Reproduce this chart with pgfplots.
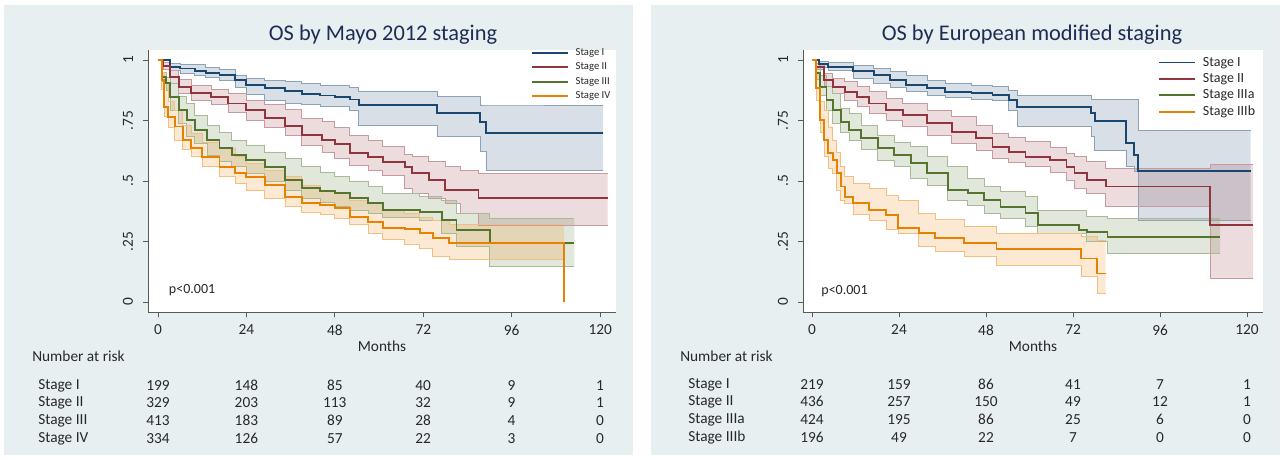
\documentclass[border=0pt]{standalone}
\usepackage{fontspec}
\setmainfont{Carlito}
\usepackage{pgfplots}
\pgfplotsset{compat=1.18}
\usepackage{pgfplotstable}
\usepgfplotslibrary{fillbetween}
\definecolor{cI}{RGB}{26,71,111}
\definecolor{cII}{RGB}{144,53,59}
\definecolor{cIII}{RGB}{85,117,47}
\definecolor{cIV}{RGB}{232,128,0}
\definecolor{panel}{RGB}{232,239,241}
\definecolor{ttl}{RGB}{30,45,85}
\definecolor{txt}{RGB}{40,40,40}

\pgfdeclarelayer{panelbg}
\pgfdeclarelayer{axis background}
\pgfdeclarelayer{axis grid}
\pgfdeclarelayer{axis ticks}
\pgfdeclarelayer{axis lines}
\pgfdeclarelayer{axis tick labels}
\pgfdeclarelayer{pre main}
\pgfdeclarelayer{axis descriptions}
\pgfdeclarelayer{axis foreground}
\pgfplotsset{
  layers/kmlayers/.define layer set={panelbg,axis background,axis grid,axis ticks,axis lines,axis tick labels,pre main,main,axis descriptions,axis foreground}{
    grid style={/pgfplots/on layer=axis grid},
    tick style={/pgfplots/on layer=axis ticks},
    axis line style={/pgfplots/on layer=axis lines},
    label style={/pgfplots/on layer=axis descriptions},
    legend style={/pgfplots/on layer=axis descriptions},
    title style={/pgfplots/on layer=axis descriptions},
    ticklabel style={/pgfplots/on layer=axis tick labels},
    axis background@ style={/pgfplots/on layer=axis background},
    3d box foreground style={/pgfplots/on layer=axis foreground},
  },
  set layers=kmlayers,
}

% ---------- Mayo 2012 staging ----------
\pgfplotstableread{
t s lo hi
0 1 1 1
3.3 0.972 0.955 0.985
6 0.965 0.945 0.982
10 0.955 0.938 0.98
13 0.948 0.928 0.97
16.7 0.938 0.917 0.96
21 0.917 0.885 0.935
24 0.897 0.858 0.924
29 0.883 0.835 0.915
34.5 0.873 0.82 0.91
39 0.86 0.815 0.903
44 0.853 0.81 0.897
48 0.848 0.81 0.897
52 0.837 0.793 0.887
54.5 0.814 0.731 0.872
75.7 0.782 0.686 0.848
87.4 0.745 0.621 0.814
89 0.70 0.545 0.814
120.8 0.70 0.545 0.814
}\tabAi
\pgfplotstableread{
t s lo hi
0 1 1 1
1.5 0.975 0.96 0.99
3.3 0.93 0.905 0.955
5.6 0.887 0.86 0.92
9 0.862 0.835 0.895
14.5 0.848 0.815 0.88
19 0.82 0.785 0.862
24 0.793 0.75 0.835
29 0.759 0.72 0.815
34.5 0.727 0.69 0.795
39 0.69 0.648 0.76
44.5 0.669 0.62 0.745
48 0.653 0.595 0.72
52 0.614 0.565 0.69
57 0.60 0.545 0.668
61 0.58 0.525 0.642
67 0.559 0.47 0.61
69 0.532 0.449 0.60
73.5 0.504 0.43 0.58
78 0.463 0.408 0.559
82 0.463 0.366 0.545
87 0.428 0.315 0.532
122 0.428 0.315 0.532
}\tabAii
\pgfplotstableread{
t s lo hi
0 1 1 1
1 0.93 0.91 0.95
2.2 0.904 0.875 0.93
3.3 0.848 0.793 0.904
5.6 0.793 0.74 0.85
7.8 0.752 0.683 0.82
10 0.71 0.655 0.77
13.4 0.669 0.607 0.731
16.7 0.635 0.58 0.70
20 0.607 0.559 0.669
24 0.587 0.532 0.649
29 0.559 0.50 0.62
34.5 0.504 0.463 0.594
39 0.47 0.43 0.56
44 0.46 0.41 0.535
48 0.449 0.394 0.518
52 0.428 0.38 0.50
57 0.408 0.366 0.477
61 0.38 0.35 0.449
71 0.373 0.339 0.435
77 0.339 0.284 0.421
81 0.297 0.229 0.366
90 0.245 0.149 0.345
113 0.245 0.149 0.345
}\tabAiii
\pgfplotstableread{
t s lo hi
0 1 1 1
1 0.917 0.88 0.95
1.7 0.807 0.766 0.904
2.8 0.766 0.72 0.83
4.5 0.725 0.669 0.793
6.7 0.669 0.63 0.73
9 0.635 0.60 0.697
12 0.60 0.56 0.66
16.7 0.559 0.518 0.635
21 0.532 0.49 0.60
24 0.518 0.463 0.573
29 0.483 0.43 0.545
34.5 0.435 0.394 0.518
39 0.408 0.37 0.48
44 0.40 0.36 0.46
48 0.387 0.345 0.449
52 0.353 0.32 0.42
57 0.332 0.284 0.408
61 0.304 0.26 0.38
67 0.30 0.236 0.366
71 0.284 0.22 0.35
74.6 0.263 0.187 0.339
79 0.242 0.174 0.322
110.2 0.0 0.174 0.322
}\tabAiv
% ---------- European modified staging ----------
\pgfplotstableread{
t s lo hi
0 1 1 1
2 0.985 0.97 0.995
4.5 0.972 0.955 0.99
11.3 0.956 0.924 0.979
17 0.938 0.905 0.965
21.5 0.917 0.887 0.952
26 0.897 0.87 0.935
31.7 0.883 0.855 0.917
36.8 0.869 0.845 0.905
44 0.862 0.838 0.897
49.8 0.855 0.835 0.89
54.3 0.835 0.793 0.876
56.6 0.807 0.727 0.855
77 0.78 0.683 0.837
78 0.749 0.628 0.837
86.6 0.656 0.56 0.837
88.9 0.607 0.54 0.837
90 0.543 0.339 0.71
121 0.543 0.339 0.71
}\tabBi
\pgfplotstableread{
t s lo hi
0 1 1 1
1.1 0.972 0.96 0.985
3.4 0.917 0.89 0.945
5.7 0.89 0.86 0.925
9 0.869 0.835 0.91
12.5 0.848 0.81 0.89
15.8 0.82 0.78 0.869
20.4 0.793 0.75 0.84
25 0.773 0.725 0.82
31.7 0.738 0.69 0.79
38.5 0.704 0.656 0.766
45.3 0.676 0.625 0.73
49.8 0.642 0.594 0.697
54.3 0.621 0.575 0.68
58.9 0.60 0.559 0.663
65.7 0.587 0.535 0.64
70.2 0.559 0.504 0.614
72.4 0.532 0.47 0.60
75.8 0.504 0.449 0.58
81 0.477 0.394 0.552
109.8 0.318 0.098 0.57
121.7 0.318 0.098 0.57
}\tabBii
\pgfplotstableread{
t s lo hi
0 1 1 1
1.1 0.945 0.92 0.97
2.3 0.89 0.855 0.938
4 0.835 0.79 0.89
5.7 0.793 0.738 0.862
7.9 0.745 0.70 0.80
10.2 0.71 0.669 0.78
13.6 0.676 0.63 0.73
18.1 0.635 0.587 0.69
22.6 0.607 0.56 0.66
27.2 0.573 0.511 0.642
31.7 0.532 0.48 0.60
37.4 0.463 0.421 0.559
43 0.449 0.40 0.51
47.5 0.421 0.366 0.477
52 0.394 0.345 0.455
58.9 0.366 0.311 0.435
62.3 0.318 0.284 0.38
73.6 0.298 0.284 0.38
75.8 0.288 0.25 0.353
81.5 0.267 0.201 0.345
112.6 0.267 0.201 0.345
}\tabBiii
\pgfplotstableread{
t s lo hi
0 1 1 1
1.1 0.883 0.835 0.945
2.3 0.752 0.70 0.83
3.4 0.669 0.60 0.793
4.5 0.614 0.55 0.72
5.7 0.587 0.532 0.669
6.8 0.532 0.46 0.62
7.9 0.477 0.42 0.56
9 0.435 0.408 0.518
11.3 0.408 0.36 0.49
15.8 0.38 0.339 0.47
20.4 0.36 0.30 0.44
23.8 0.304 0.284 0.421
29.4 0.284 0.229 0.366
34 0.263 0.21 0.34
41.9 0.242 0.187 0.311
50.9 0.218 0.153 0.284
74.2 0.18 0.105 0.27
78.7 0.118 0.036 0.256
81 0.118 0.036 0.256
}\tabBiv

\newcommand{\band}[3]{% table, colour, id
  \addplot[const plot, draw=#2!50, line width=0.6pt, name path=#3U, forget plot] table[x=t,y=hi]{#1};
  \addplot[const plot, draw=#2!50, line width=0.6pt, name path=#3L, forget plot] table[x=t,y=lo]{#1};
  \addplot[fill=#2, fill opacity=0.17, draw=none, forget plot] fill between[of=#3U and #3L];
}
\newcommand{\km}[2]{% table, colour
  \addplot[const plot, draw=#2, line width=1.4pt] table[x=t,y=s]{#1};
}

\pgfplotsset{kmaxis/.style={
  scale only axis, height=196.5pt,
  ymin=-0.0413, ymax=1.0413,
  axis x line*=bottom, axis y line*=left,
  axis line style={black!65, line width=0.6pt},
  axis background/.style={fill=white},
  tick align=outside, major tick length=4pt,
  tick style={black!65, line width=0.6pt},
  xtick={0,24,48,72,96,120},
  ytick={0,0.25,0.5,0.75,1},
  yticklabels={0,.25,.5,.75,1},
  yticklabel style={rotate=90, anchor=south, inner sep=2pt},
  yticklabel shift=5pt,
  xticklabel shift=2pt,
  ticklabel style={font=\fontsize{11.5}{13}\selectfont, text=txt},
  /pgf/number format/assume math mode=true,
  xlabel={Months},
  xlabel style={font=\fontsize{11.5}{13}\selectfont, text=txt, inner sep=0pt, yshift=-0.5pt},
  legend cell align=left,
  legend image code/.code={\draw[##1] (0pt,0pt) -- (27pt,0pt);},
}}

\begin{document}
\begin{tikzpicture}
\begin{scope}[x=0.75pt, y=0.75pt]
\useasboundingbox (0,0) rectangle (1283,460);
\begin{pgfonlayer}{panelbg}
\fill[white] (0,0) rectangle (1283,460);
\fill[panel] (4,5) rectangle (633,455);
\fill[panel] (651,5) rectangle (1280,455);
\end{pgfonlayer}
\end{scope}

% ----- left panel -----
\begin{axis}[kmaxis, at={(111pt,111pt)}, anchor=south west,
  width=351pt, xmin=-2.71, xmax=124.3,
  legend style={draw=none, fill=none, at={(0.818,1.015)}, anchor=north west,
    font=\fontsize{8}{9}\selectfont, inner sep=0pt, row sep=1.2pt, column sep=3.5pt,
    nodes={inner sep=1.5pt, text=txt}}]
\band{\tabAi}{cI}{ai}
\band{\tabAii}{cII}{aii}
\band{\tabAiii}{cIII}{aiii}
\band{\tabAiv}{cIV}{aiv}
\km{\tabAi}{cI}\addlegendentry{Stage I}
\km{\tabAii}{cII}\addlegendentry{Stage II}
\km{\tabAiii}{cIII}\addlegendentry{Stage III}
\km{\tabAiv}{cIV}\addlegendentry{Stage IV}
\node[anchor=west, font=\fontsize{10.5}{12}\selectfont, text=txt] at (axis cs:1.7,0.05) {p<0.001};
\end{axis}

% ----- right panel -----
\begin{axis}[kmaxis, at={(602.25pt,111pt)}, anchor=south west,
  width=345pt, xmin=-2.48, xmax=124.4,
  legend style={draw=none, fill=none, at={(0.772,0.982)}, anchor=north west,
    font=\fontsize{10.5}{12}\selectfont, inner sep=0pt, row sep=0.9pt, column sep=3.5pt,
    nodes={inner sep=1.5pt, text=txt}}]
\band{\tabBi}{cI}{bi}
\band{\tabBii}{cII}{bii}
\band{\tabBiii}{cIII}{biii}
\band{\tabBiv}{cIV}{biv}
\km{\tabBi}{cI}\addlegendentry{Stage I}
\km{\tabBii}{cII}\addlegendentry{Stage II}
\km{\tabBiii}{cIII}\addlegendentry{Stage IIIa}
\km{\tabBiv}{cIV}\addlegendentry{Stage IIIb}
\node[anchor=west, font=\fontsize{10.5}{12}\selectfont, text=txt] at (axis cs:1.3,0.045) {p<0.001};
\end{axis}

\begin{scope}[x=0.75pt, y=0.75pt]
\node[anchor=base, font=\fontsize{16.8}{19}\selectfont, text=ttl] at (383,419) {OS by Mayo 2012 staging};
\node[anchor=base, font=\fontsize{16.8}{19}\selectfont, text=ttl] at (1032,419) {OS by European modified staging};
\begin{scope}[every node/.style={font=\fontsize{11.5}{13}\selectfont, text=txt, inner sep=0pt}]
\node[anchor=base west] at (32,98) {Number at risk};
\foreach \lab/\y/\a/\b/\c/\d/\e/\f in {Stage I/70/199/148/85/40/9/1, Stage II/53/329/203/113/32/9/1, Stage III/35/413/183/89/28/4/0, Stage IV/17/334/126/57/22/3/0}{
  \node[anchor=base west] at (38,\y) {\lab};
  \node[anchor=base] at (158,\y-1) {\a};
  \node[anchor=base] at (246.4,\y-1) {\b};
  \node[anchor=base] at (334.8,\y-1) {\c};
  \node[anchor=base] at (423.2,\y-1) {\d};
  \node[anchor=base] at (511.6,\y-1) {\e};
  \node[anchor=base] at (600,\y-1) {\f};
}
\node[anchor=base west] at (680,98) {Number at risk};
\foreach \lab/\y/\a/\b/\c/\d/\e/\f in {Stage I/71/219/159/86/41/7/1, Stage II/54/436/257/150/49/12/1, Stage IIIa/36/424/195/86/25/6/0, Stage IIIb/18/196/49/22/7/0/0}{
  \node[anchor=base west] at (688,\y) {\lab};
  \node[anchor=base] at (812,\y-1) {\a};
  \node[anchor=base] at (899,\y-1) {\b};
  \node[anchor=base] at (986,\y-1) {\c};
  \node[anchor=base] at (1073,\y-1) {\d};
  \node[anchor=base] at (1160,\y-1) {\e};
  \node[anchor=base] at (1247,\y-1) {\f};
}
\end{scope}
\end{scope}
\end{tikzpicture}
\end{document}
